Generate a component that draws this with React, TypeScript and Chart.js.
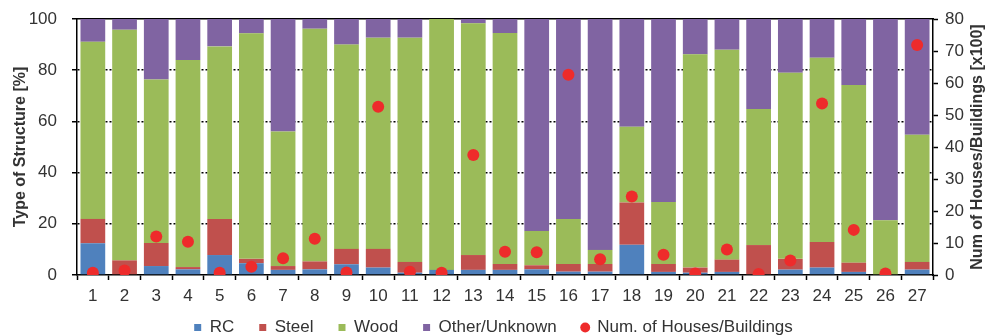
import React, { useEffect, useRef } from "react";
import { Chart, registerables } from "chart.js";

Chart.register(...registerables);

const categories = ["1","2","3","4","5","6","7","8","9","10","11","12","13","14","15","16","17","18","19","20","21","22","23","24","25","26","27"];

const rcValues = [12.4, 0, 3.5, 2.2, 7.8, 4.6, 2.0, 2.2, 4.2, 2.9, 0.9, 2.0, 2.0, 2.0, 2.2, 1.3, 1.3, 11.8, 1.2, 0.9, 1.2, 0, 2.1, 2.9, 1.2, 0, 2.1];
const steelValues = [9.5, 5.7, 9.0, 0.9, 14.1, 1.7, 1.5, 3.1, 6.0, 7.3, 4.2, 0, 5.8, 2.3, 1.6, 3.0, 3.0, 16.5, 3.1, 2.0, 4.8, 11.7, 4.2, 10.0, 3.6, 0, 3.0];
const woodValues = [69.2, 90.1, 63.9, 80.9, 67.4, 88.1, 52.6, 90.9, 79.8, 82.5, 87.6, 98.0, 90.5, 90.2, 13.4, 17.6, 5.5, 29.6, 24.2, 83.3, 82.0, 53.1, 72.7, 72.0, 69.4, 21.4, 49.7];
const otherValues = [8.9, 4.2, 23.6, 16.0, 10.7, 5.6, 43.9, 3.8, 10.0, 7.3, 7.3, 0, 1.7, 5.5, 82.8, 78.1, 90.2, 42.1, 71.5, 13.8, 12.0, 35.2, 21.0, 15.1, 25.8, 78.6, 45.2];
const houseCounts = [0.7, 1.4, 12.0, 10.4, 0.7, 2.6, 5.2, 11.3, 0.8, 52.6, 1.0, 0.7, 37.5, 7.3, 7.1, 62.6, 4.9, 24.5, 6.3, 0.5, 8.0, 0.3, 4.5, 53.6, 14.1, 0.5, 71.9];

const leftTicksMax = 100;
const rightTicksMax = 80;

const FONT = '"Liberation Sans", Arial, sans-serif';
const TEXT = "#333333";

const rightTitlePlugin = {
  id: "rightTitle",
  afterDraw(chart: any) {
    const { ctx, chartArea } = chart;
    ctx.save();
    ctx.translate(978, (chartArea.top + chartArea.bottom) / 2);
    ctx.rotate(-Math.PI / 2);
    ctx.font = `bold 16px ${FONT}`;
    ctx.fillStyle = TEXT;
    ctx.textAlign = "center";
    ctx.textBaseline = "middle";
    ctx.fillText("Num of Houses/Buildings [x100]", 0, 0);
    ctx.restore();
  },
};

const noPad = (s: any) => {
  s.paddingTop = 0;
  s.paddingBottom = 0;
  s.paddingLeft = 0;
  s.paddingRight = 0;
};

export default function App() {
  const ref = useRef<HTMLCanvasElement | null>(null);

  useEffect(() => {
    if (!ref.current) return;
    const barBase = { type: "bar" as const, stack: "s", borderWidth: 0, barPercentage: 0.78, categoryPercentage: 1, order: 1, yAxisID: "y" };
    const chart = new Chart(ref.current, {
      type: "bar",
      data: {
        labels: categories,
        datasets: [
          { ...barBase, label: "RC", data: rcValues, backgroundColor: "#4F81BD" },
          { ...barBase, label: "Steel", data: steelValues, backgroundColor: "#C0504D" },
          { ...barBase, label: "Wood", data: woodValues, backgroundColor: "#9BBB59" },
          { ...barBase, label: "Other/Unknown", data: otherValues, backgroundColor: "#8064A2" },
          {
            type: "line" as const,
            label: "Num. of Houses/Buildings",
            data: houseCounts,
            yAxisID: "y2",
            showLine: false,
            order: 0,
            pointRadius: 6,
            pointHoverRadius: 6,
            pointBorderWidth: 0,
            pointBackgroundColor: "#EE2B2B",
            backgroundColor: "#EE2B2B",
            borderColor: "#EE2B2B",
            borderWidth: 0,
          } as any,
        ],
      },
      options: {
        responsive: false,
        animation: false,
        devicePixelRatio: 1,
        layout: { padding: { top: 19, left: 0, right: 0, bottom: -10 } },
        plugins: {
          tooltip: { enabled: false },
          legend: {
            position: "bottom",
            labels: {
              usePointStyle: true,
              boxWidth: 7,
              boxHeight: 7,
              padding: 25,
              color: TEXT,
              font: { family: FONT, size: 17 },
              sort: (a: any, b: any) => a.datasetIndex - b.datasetIndex,
              generateLabels: (ch: any) => {
                const items = (Chart as any).defaults.plugins.legend.labels.generateLabels(ch);
                return items.map((it: any) => ({
                  ...it,
                  pointStyle: it.datasetIndex === 4 ? "circle" : "rect",
                  lineWidth: 0,
                  strokeStyle: "rgba(0,0,0,0)",
                }));
              },
            },
          },
        },
        scales: {
          x: {
            type: "category",
            stacked: true,
            offset: true,
            grid: {
              display: true,
              drawOnChartArea: false,
              drawTicks: true,
              tickLength: 5,
              tickColor: "#000",
              tickWidth: 1.5,
              offset: true,
            },
            border: { display: true, color: "#000", width: 1.5 },
            ticks: { color: TEXT, font: { family: FONT, size: 17 }, padding: 6, autoSkip: false, maxRotation: 0 },
            afterFit: (s: any) => {
              s.height = 19;
              noPad(s);
              s._computeLabelArea = () => undefined;
            },
          },
          x2: {
            type: "category",
            position: "top",
            grid: { display: false, drawTicks: false },
            ticks: { display: false },
            border: { display: true, color: "#000", width: 1.5 },
            afterFit: (s: any) => { s.height = 0; noPad(s); },
          },
          y: {
            position: "left",
            stacked: true,
            min: 0,
            max: leftTicksMax,
            ticks: { stepSize: 20, color: TEXT, font: { family: FONT, size: 17 }, padding: 15 },
            grid: {
              color: (c: any) => (c.tick && c.tick.value > 0 && c.tick.value < 100 ? "#000" : "rgba(0,0,0,0)"),
              lineWidth: 1.5,
              tickColor: "#000",
              tickLength: 5,
              tickWidth: 1.5,
            },
            border: { display: true, color: "#000", width: 1.5, dash: [2, 2] },
            title: {
              display: true,
              text: "Type of Structure [%]",
              color: TEXT,
              font: { family: FONT, size: 16, weight: "bold" },
              padding: { top: 11, bottom: 0 },
            },
            afterFit: (s: any) => { s.width = 77; noPad(s); },
          },
          y2: {
            position: "right",
            min: 0,
            max: rightTicksMax,
            ticks: { stepSize: 10, color: TEXT, font: { family: FONT, size: 17 }, padding: 7 },
            grid: { drawOnChartArea: false, tickColor: "#000", tickLength: 5, tickWidth: 1.5 },
            border: { display: true, color: "#000", width: 1.5 },
            afterFit: (s: any) => { s.width = 54; noPad(s); },
          },
        },
      } as any,
      plugins: [rightTitlePlugin],
    });
    return () => chart.destroy();
  }, []);

  return (
    <div style={{ position: "absolute", left: 0, top: 0, width: 987, height: 336, background: "#fff" }}>
      <canvas ref={ref} width={987} height={336} />
    </div>
  );
}
